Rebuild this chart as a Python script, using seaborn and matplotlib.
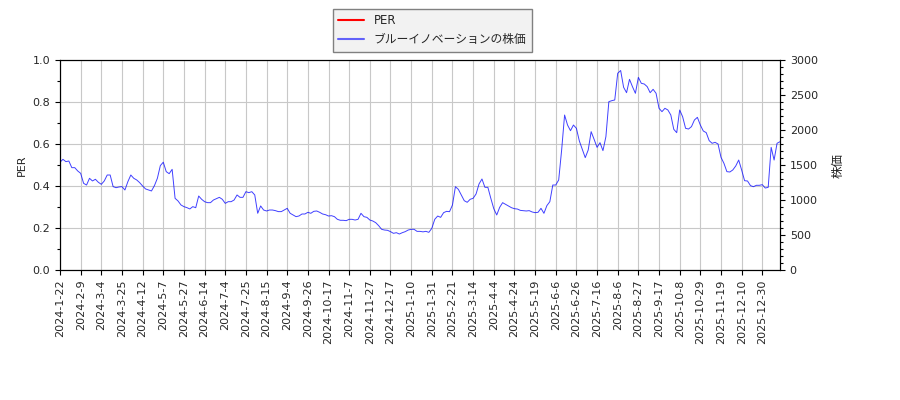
import numpy as np
import seaborn as sns
import matplotlib.pyplot as plt
from matplotlib.lines import Line2D
from matplotlib.ticker import MultipleLocator

sns.set_theme(style="ticks")
plt.rcParams['font.family'] = ['DejaVu Sans', 'Noto Sans CJK JP']

# ---------------------------
# data (one reading every 2 trading days, from 2024-1-22)
# ---------------------------
step = 2
price = [
    1540, 1581, 1548, 1557, 1462, 1462, 1415, 1381, 1238, 1214,
    1310, 1272, 1296, 1253, 1224, 1272, 1357, 1357, 1191, 1176,
    1186, 1191, 1143, 1262, 1357, 1310, 1286, 1248, 1200, 1158,
    1143, 1129, 1205, 1310, 1491, 1540, 1405, 1376, 1438, 1024,
    986, 929, 905, 891, 872, 905, 890, 1057, 1010, 976,
    962, 962, 1000, 1019, 1038, 1010, 952, 976, 976, 1000,
    1072, 1038, 1038, 1119, 1105, 1119, 1072, 810, 915, 857,
    843, 857, 857, 848, 834, 834, 857, 881, 810, 786,
    762, 772, 800, 800, 824, 810, 838, 843, 824, 800,
    790, 771, 776, 762, 724, 710, 710, 705, 724, 724,
    714, 724, 810, 762, 752, 714, 700, 676, 633, 581,
    571, 567, 548, 524, 533, 514, 533, 548, 571, 581,
    581, 552, 552, 545, 552, 538, 595, 724, 771, 752,
    819, 838, 833, 928, 1190, 1152, 1071, 990, 967, 1010,
    1024, 1086, 1229, 1300, 1181, 1181, 1024, 876, 786, 895,
    962, 938, 914, 890, 876, 871, 852, 848, 843, 848,
    829, 819, 824, 881, 810, 920, 976, 1214, 1214, 1286,
    1714, 2214, 2071, 1990, 2071, 2024, 1843, 1724, 1605, 1714,
    1976, 1867, 1752, 1819, 1705, 1905, 2405, 2419, 2429, 2810,
    2850, 2610, 2533, 2724, 2619, 2524, 2752, 2667, 2657, 2619,
    2533, 2581, 2524, 2310, 2262, 2310, 2286, 2214, 2010, 1962,
    2286, 2190, 2024, 2014, 2048, 2143, 2181, 2071, 1986, 1962,
    1848, 1810, 1824, 1800, 1610, 1524, 1405, 1400, 1429, 1486,
    1571, 1429, 1276, 1271, 1205, 1190, 1210, 1210, 1219, 1171,
    1181, 1752, 1571, 1810, 1833,
]
tick_every = 14
tick_labels = [
    "2024-1-22", "2024-2-9", "2024-3-4", "2024-3-25", "2024-4-12",
    "2024-5-7", "2024-5-27", "2024-6-14", "2024-7-4", "2024-7-25",
    "2024-8-15", "2024-9-4", "2024-9-26", "2024-10-17", "2024-11-7",
    "2024-11-27", "2024-12-17", "2025-1-10", "2025-1-31", "2025-2-21",
    "2025-3-14", "2025-4-4", "2025-4-24", "2025-5-19", "2025-6-6",
    "2025-6-26", "2025-7-16", "2025-8-6", "2025-8-27", "2025-9-17",
    "2025-10-8", "2025-10-29", "2025-11-19", "2025-12-10", "2025-12-30",
]
per_label = "PER"
price_label = "ブルーイノベーションの株価"

day = np.arange(len(price)) * step

fig, ax1 = plt.subplots(figsize=(9, 4), dpi=100)
fig.subplots_adjust(left=60/900, right=780/900, top=1-60/400, bottom=1-270/400)
ax2 = ax1.twinx()

# PER has no values, price goes on the right axis
sns.lineplot(x=day, y=price, ax=ax2, color="blue", lw=0.7, alpha=0.75,
             legend=False)

ax1.set_xlim(0, day[-1])
ax1.set_ylim(0, 1.0)
ax2.set_ylim(0, 3000)
ax1.yaxis.set_major_locator(MultipleLocator(0.2))
ax1.yaxis.set_minor_locator(MultipleLocator(0.1))
ax2.yaxis.set_major_locator(MultipleLocator(500))
ax2.yaxis.set_minor_locator(MultipleLocator(100))

ax1.set_xticks(np.arange(len(tick_labels)) * tick_every)
ax1.set_xticklabels(tick_labels, rotation=90, fontsize=8)
for ax in (ax1, ax2):
    ax.tick_params(axis="both", which="both", labelsize=8, direction="out",
                   color="black", length=3.5, width=0.8)
    ax.tick_params(which="minor", length=2)
    for s in ax.spines.values():
        s.set_color("black")
        s.set_linewidth(0.8)

ax1.grid(True, color="#c8c8c8", lw=0.8)
ax2.grid(False)
ax1.set_ylabel("PER", fontsize=8)
ax2.set_ylabel("株価", fontsize=9, family=["Noto Sans CJK JP"], labelpad=10)

handles = [Line2D([], [], color="red", lw=1.5),
           Line2D([], [], color="blue", lw=1.5, alpha=0.6)]
leg = fig.legend(handles, [per_label, price_label], loc="upper left",
                 bbox_to_anchor=(333/900, 1 - 9/400), borderaxespad=0,
                 fontsize=8.5, fancybox=False, framealpha=1,
                 facecolor="#f2f2f2", edgecolor="#808080",
                 handlelength=2.2, borderpad=0.45)
for t in leg.get_texts():
    t.set_family(["DejaVu Sans", "Noto Sans CJK JP"])

plt.savefig("out.png", dpi=100)
